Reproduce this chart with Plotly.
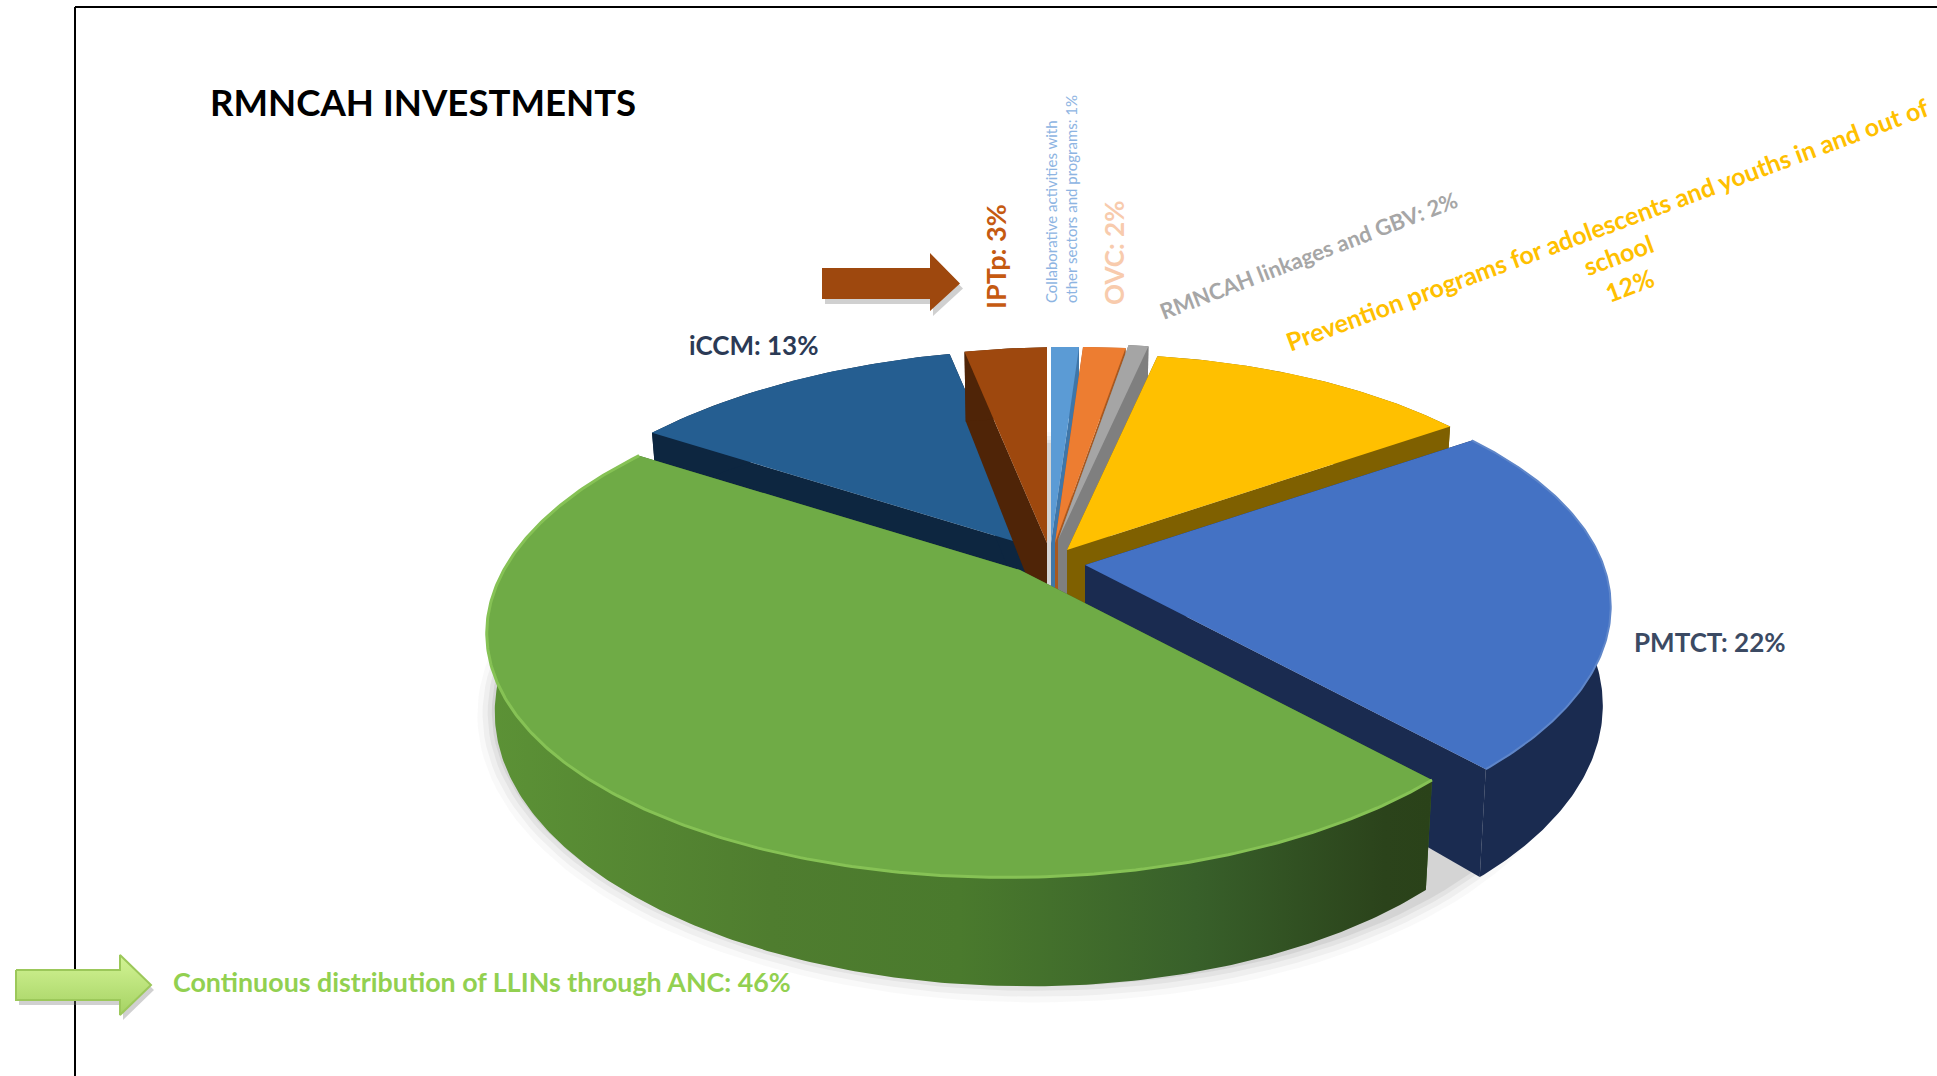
import numpy as np
import plotly.graph_objects as go

# ---- data (clockwise from 12 o'clock) ----
categories = ["Collaborative activities with other sectors and programs", "OVC",
              "RMNCAH linkages and GBV", "Prevention programs for adolescents and youths in and out of school",
              "PMTCT", "Continuous distribution of LLINs through ANC", "iCCM", "IPTp"]
values = [1.05, 1.6, 0.75, 12.3, 22.8, 46.1, 12.3, 3.1]
label_texts = ["Collaborative activities with<br>other sectors and programs: 1%", "OVC: 2%",
               "RMNCAH linkages and GBV: 2%",
               "Prevention programs for adolescents and youths in and out of<br>school<br>12%",
               "PMTCT: 22%", "Continuous distribution of LLINs through ANC: 46%", "iCCM: 13%", "IPTp: 3%"]
title_text = "RMNCAH INVESTMENTS"

# ---- styling ----
top_colors = ["#5b9bd5", "#ed7d31", "#a5a5a5", "#ffc000", "#4472c4", "#6fab46", "#255e91", "#9e480e"]
wall_colors = ["#3f76a8", "#a8581f", "#7f7f7f", "#7f6000", "#1a2b50", "#3f6a28", "#0d2640", "#4f2407"]
apex_x = [1051, 1055, 1058, 1067, 1085, 1020, 1033, 1047]
apex_y = [543, 543, 540, 550, 565, 570, 547, 543]
scales = [1, 1, 1, 1, 1.01, 1.02, 1.01, 1]
persp = [0.2, 0.2, 0.2, 0.2, 0.2, 0.22, 0.2, 0.2]
draw_order = [6, 7, 0, 1, 2, 3, 4, 5]
A, B, DEPTH, TILT = 510, 235, 85, 8

def proj(theta, ax, ay, sc, k=0.2):
    u, v = np.sin(theta), np.cos(theta)
    s = 1 / (1 + k * v)
    return ax + A * sc * u * s, ay - B * sc * v * s - TILT * u, DEPTH * s * (1 + 0.12 * u)

frac = np.array(values, float) / sum(values)
edges = np.concatenate([[0], np.cumsum(frac)]) * 2 * np.pi

fig = go.Figure()

def poly(x, y, color, **kw):
    fig.add_trace(go.Scatter(x=list(x), y=list(y), mode="lines", fill="toself", fillcolor=color,
                             line=dict(width=0), hoverinfo="skip", showlegend=False, **kw))

# soft shadow beneath the pie
t = np.linspace(0, 2 * np.pi, 181)
for grow, alpha in [(16, .04), (11, .06), (6, .08), (2, .10)]:
    sx, sy, sd = proj(t, 1030, 575, 1.03)
    poly(1030 + (sx - 1030) * (1 + grow / 520), 575 + (sy - 575) * (1 + grow / 260) + sd,
         f"rgba(90,90,90,{alpha})")

# slices
IN = 0.985  # the wall's lower edge draws in slightly
for i in draw_order:
    th = np.linspace(edges[i], edges[i + 1], max(int(values[i] * 6), 8))
    ax, ay, sc = apex_x[i], apex_y[i], scales[i]
    x, y, d = proj(th, ax, ay, sc, persp[i])
    d0 = DEPTH
    bx = ax + (x - ax) * IN
    # radial faces
    poly([ax, x[0], bx[0], ax], [ay, y[0], y[0] + d[0], ay + d0], wall_colors[i])
    poly([ax, x[-1], bx[-1], ax], [ay, y[-1], y[-1] + d[-1], ay + d0], wall_colors[i])
    # outer wall
    wx = np.concatenate([x, bx[::-1]])
    wy = np.concatenate([y, (y + d)[::-1]])
    if i == 5:
        fig.add_trace(go.Scatter(x=list(wx), y=list(wy), mode="lines", fill="toself", line=dict(width=0),
                                 hoverinfo="skip", showlegend=False,
                                 fillgradient=dict(type="horizontal", colorscale=[
                                     [0, "#5c9236"], [.3, "#4f7d2f"], [.5, "#4a7a2d"],
                                     [.75, "#38602a"], [.95, "#2b431b"], [1, "#2a4219"]])))
    else:
        poly(wx, wy, wall_colors[i])
    # top surface
    poly(np.concatenate([[ax], x]), np.concatenate([[ay], y]), top_colors[i])
    # bevel highlight on the large front slices
    if i == 5:
        fig.add_trace(go.Scatter(x=list(x), y=list(y), mode="lines", line=dict(color="#86c255", width=3),
                                 hoverinfo="skip", showlegend=False))
    if i == 4:
        fig.add_trace(go.Scatter(x=list(x), y=list(y), mode="lines", line=dict(color="#5f86c9", width=2),
                                 hoverinfo="skip", showlegend=False))

# block arrows
def arrow(x0, xh, xt, y0, y1, yh0, yh1):
    ym = (y0 + y1) / 2
    xs = [x0, xh, xh, xt, xh, xh, x0, x0]
    ys = [y0, y0, yh0, ym, yh1, y1, y1, y0]
    return xs, ys

xs, ys = arrow(822, 930, 960, 268, 299, 253, 311)
poly([v + 3 for v in xs], [v + 5 for v in ys], "rgba(120,120,120,.35)")
poly(xs, ys, "#9e480e")

xs, ys = arrow(16, 120, 151, 970, 1000, 955, 1015)
poly([v + 3 for v in xs], [v + 5 for v in ys], "rgba(120,120,120,.35)")
fig.add_trace(go.Scatter(x=xs, y=ys, mode="lines", fill="toself", line=dict(color="#9cc85a", width=2),
                         hoverinfo="skip", showlegend=False,
                         fillgradient=dict(type="vertical", colorscale=[[0, "#a5d263"], [1, "#d3f495"]])))

# labels
FONT = "Lato"
def note(text, x, y, size, color, angle=0, bold=True, anchor="center", align="center"):
    fig.add_annotation(x=x, y=y, xref="x", yref="y", text=f"<b>{text}</b>" if bold else text, showarrow=False,
                       font=dict(family=FONT, size=size, color=color), textangle=angle,
                       xanchor=anchor, yanchor="middle", align=align)

note(title_text, 208, 102, 36.6, "#000000", anchor="left")
note(label_texts[6], 753, 345, 26, "#2b3a55")
note(label_texts[4], 1710, 642, 26, "#3b4a63")
note(label_texts[7], 995, 257, 27, "#c55a11", angle=-90)
note(label_texts[0], 1061, 199, 15, "#8db4e2", angle=-90, bold=False, align="left")
note(label_texts[1], 1114, 253, 26, "#f8cbad", angle=-90)
note(label_texts[2], 1308, 255, 22, "#a6a6a6", angle=-21)
note(label_texts[3], 1618, 254, 25, "#ffc000", angle=-20.3)
note(label_texts[5], 171, 982, 26.8, "#92d050", anchor="left")

fig.update_layout(
    width=1937, height=1076, margin=dict(l=0, r=0, t=0, b=0),
    paper_bgcolor="white", plot_bgcolor="white", showlegend=False,
    xaxis=dict(range=[0, 1937], visible=False, fixedrange=True),
    yaxis=dict(range=[1076, 0], visible=False, fixedrange=True),
    shapes=[
        dict(type="line", xref="x", yref="y", x0=75, x1=75, y0=7, y1=1076, line=dict(color="black", width=2), layer="below"),
        dict(type="line", xref="x", yref="y", x0=75, x1=1937, y0=7, y1=7, line=dict(color="black", width=2), layer="below"),
    ],
)
fig.write_html("out.html", config=dict(displayModeBar=False),
               post_script="document.body.style.margin='0';document.body.style.overflow='hidden';")
